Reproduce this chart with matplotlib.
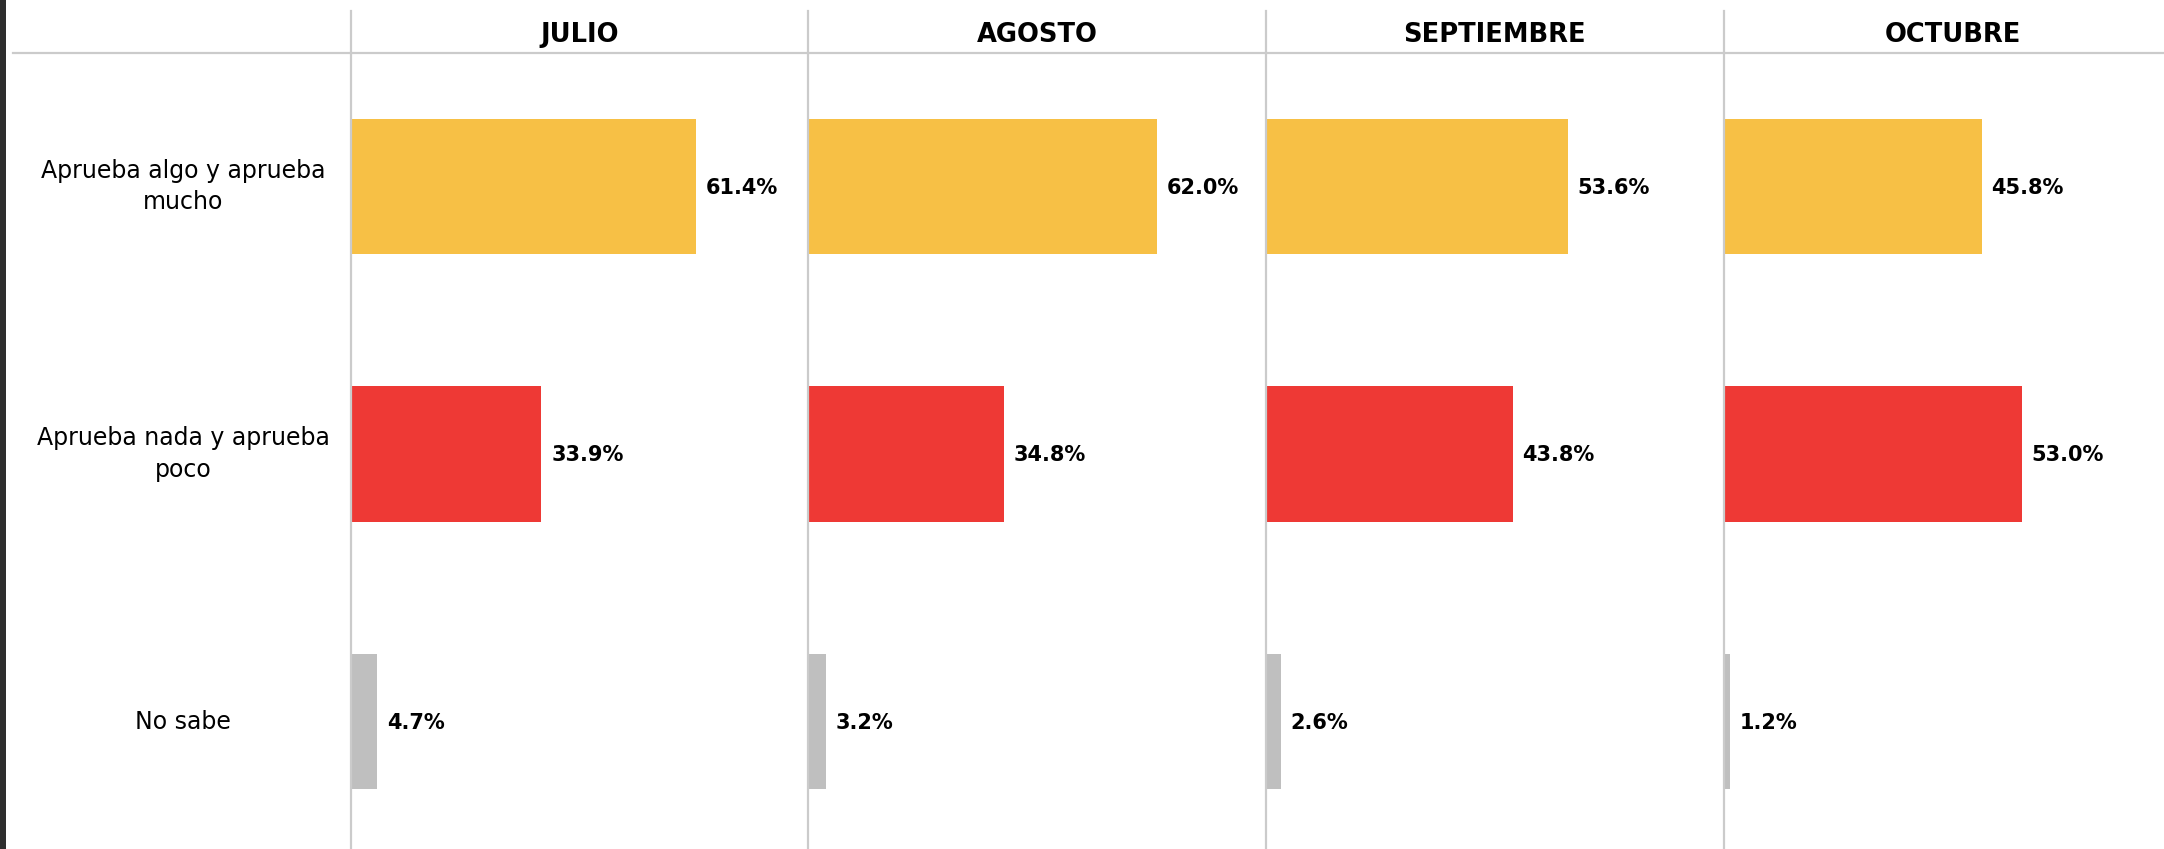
import matplotlib as mpl
import matplotlib.pyplot as plt
from matplotlib.lines import Line2D
from matplotlib.patches import Rectangle
from matplotlib.transforms import blended_transform_factory

mpl.rcParams['font.family'] = 'DejaVu Sans'

months = ["JULIO", "AGOSTO", "SEPTIEMBRE", "OCTUBRE"]
categories = ["Aprueba algo y aprueba\nmucho", "Aprueba nada y aprueba\npoco", "No sabe"]
aprueba = [61.4, 62.0, 53.6, 45.8]
desaprueba = [33.9, 34.8, 43.8, 53.0]
no_sabe = [4.7, 3.2, 2.6, 1.2]
colors = ["#F7C045", "#EE3935", "#BFBFBF"]

W, H = 2164, 849
fig = plt.figure(figsize=(W / 100, H / 100), dpi=100)

grid = "#CBCBCB"
left0, step = 350.6, 457.7
top = 52.5

for i, month in enumerate(months):
    ax = fig.add_axes([(left0 + i * step) / W, 0, step / W, (H - top) / H])
    vals = [aprueba[i], desaprueba[i], no_sabe[i]]
    ax.barh(range(3), vals, height=0.505, color=colors)
    for y, v in enumerate(vals):
        ax.annotate(f"{v:.1f}%", (v, y), xytext=(7, -1), textcoords="offset points",
                    va="center", ha="left", fontsize=15, fontweight="bold")
    ax.set_xlim(0, 81.3)
    ax.set_ylim(2.476, -0.5)
    ax.axis("off")
    ax.text(0.5, 1 + 17 / (H - top), month, transform=ax.transAxes, ha="center",
            va="center", fontsize=18.5, fontweight="bold")
    fig.add_artist(Line2D([(left0 + i * step) / W] * 2, [0, 1 - 11 / H],
                          color=grid, lw=1.6))
    if i == 0:
        tr = blended_transform_factory(fig.transFigure, ax.transData)
        for y, cat in enumerate(categories):
            ax.text(183 / W, y, cat, transform=tr, ha="center", va="center",
                    multialignment="center", fontsize=17, linespacing=1.4)

fig.add_artist(Line2D([13 / W, 1], [1 - top / H] * 2, color=grid, lw=1.6))
fig.add_artist(Rectangle((0, 0), 6 / W, 1, transform=fig.transFigure,
                         color="#2E2E2E", lw=0))

fig.savefig("out.png")
